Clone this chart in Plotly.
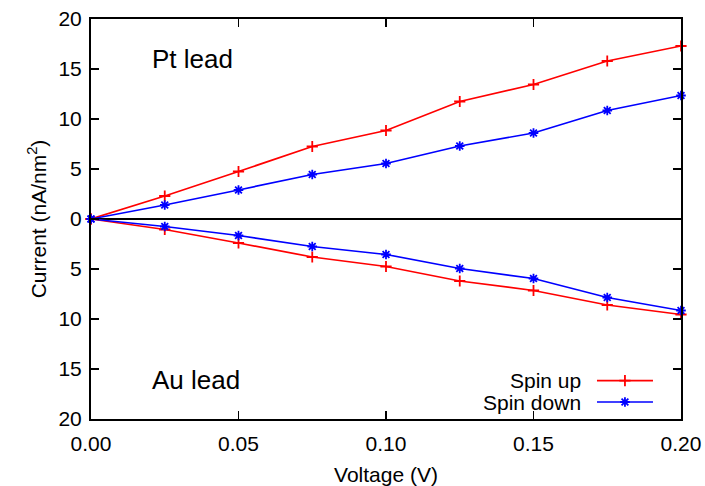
import plotly.graph_objects as go

voltage = [0.0, 0.025, 0.05, 0.075, 0.1, 0.125, 0.15, 0.175, 0.2]
pt_spin_up = [0.0, 2.3, 4.75, 7.25, 8.85, 11.75, 13.45, 15.8, 17.3]
pt_spin_down = [0.0, 1.4, 2.9, 4.45, 5.55, 7.3, 8.6, 10.85, 12.35]
au_spin_up = [0.0, -1.05, -2.4, -3.8, -4.75, -6.2, -7.15, -8.6, -9.55]
au_spin_down = [0.0, -0.75, -1.65, -2.75, -3.55, -4.95, -5.95, -7.85, -9.15]

y_tick_vals = [-20, -15, -10, -5, 0, 5, 10, 15, 20]
y_tick_text = ["20", "15", "10", "5", "0", "5", "10", "15", "20"]
x_tick_vals = [0.0, 0.05, 0.1, 0.15, 0.2]
x_tick_text = ["0.00", "0.05", "0.10", "0.15", "0.20"]

RED = "#ff0000"
BLUE = "#0000ff"
FONT = "Liberation Sans, Arial, sans-serif"

fig = go.Figure()

def add_series(y, color, symbol, msize):
    fig.add_trace(go.Scatter(
        x=voltage, y=y, mode="lines+markers",
        line=dict(color=color, width=1.7),
        marker=dict(symbol=symbol, size=msize, color=color,
                    line=dict(color=color, width=1.8)),
        showlegend=False, cliponaxis=False,
    ))

add_series(pt_spin_up, RED, "cross-thin-open", 8)
add_series(pt_spin_down, BLUE, "asterisk-open", 8)
add_series(au_spin_up, RED, "cross-thin-open", 8)
add_series(au_spin_down, BLUE, "asterisk-open", 8)

# Legend drawn on an overlay axis (0..1 spanning the plot area)
legend_labels = ["Spin up", "Spin down"]
legend_colors = [RED, BLUE]
legend_symbols = ["cross-thin-open", "asterisk-open"]
legend_y = [0.096, 0.0425]
for lab, col, sym, ly in zip(legend_labels, legend_colors, legend_symbols, legend_y):
    fig.add_trace(go.Scatter(
        x=[0.8576, 0.9525], y=[ly, ly], mode="lines", xaxis="x2", yaxis="y2",
        line=dict(color=col, width=1.7), showlegend=False, hoverinfo="skip",
    ))
    fig.add_trace(go.Scatter(
        x=[0.905], y=[ly], mode="markers", xaxis="x2", yaxis="y2",
        marker=dict(symbol=sym, size=8, color=col, line=dict(color=col, width=1.8)),
        showlegend=False, hoverinfo="skip",
    ))
    fig.add_annotation(x=0.834, y=ly, xref="x2", yref="y2", text=lab,
                       showarrow=False, xanchor="right", yanchor="middle",
                       font=dict(family=FONT, size=21, color="black"))

fig.add_annotation(x=0.1, y=0.9, xref="x2", yref="y2", text="Pt lead",
                   showarrow=False, xanchor="left", yanchor="middle",
                   font=dict(family=FONT, size=26, color="black"))
fig.add_annotation(x=0.1, y=0.0975, xref="x2", yref="y2", text="Au lead",
                   showarrow=False, xanchor="left", yanchor="middle",
                   font=dict(family=FONT, size=26, color="black"))

fig.update_layout(
    width=705, height=486,
    margin=dict(l=91, r=24, t=19, b=67, autoexpand=False),
    paper_bgcolor="white", plot_bgcolor="white",
    font=dict(family=FONT, size=21, color="black"),
    xaxis=dict(
        range=[0, 0.2], tickvals=x_tick_vals, ticktext=x_tick_text,
        ticks="inside", ticklen=8, tickwidth=1.5, tickcolor="black",
        showline=True, linecolor="black", linewidth=2, mirror="allticks",
        showgrid=False, zeroline=False, automargin=False,
        tickfont=dict(size=21), ticklabeloverflow="allow", ticklabelstandoff=5,
        title=dict(text="Voltage (V)", font=dict(size=21), standoff=14),
    ),
    yaxis=dict(
        range=[-20, 20], tickvals=y_tick_vals, ticktext=y_tick_text,
        ticks="inside", ticklen=8, tickwidth=1.5, tickcolor="black",
        showline=True, linecolor="black", linewidth=2, mirror="allticks",
        showgrid=False, zeroline=True, zerolinecolor="black", zerolinewidth=1.7,
        automargin=False, tickfont=dict(size=21), ticklabeloverflow="allow",
        ticklabelstandoff=3,
        title=dict(text="Current (nA/nm<sup>2</sup>)", font=dict(size=21), standoff=6),
    ),
    xaxis2=dict(range=[0, 1], overlaying="x", visible=False, fixedrange=True),
    yaxis2=dict(range=[0, 1], overlaying="y", visible=False, fixedrange=True),
)

fig.write_html(
    "out.html",
    config={"displayModeBar": False, "staticPlot": True},
    post_script="document.body.style.margin='0';document.body.style.overflow='hidden';",
)
